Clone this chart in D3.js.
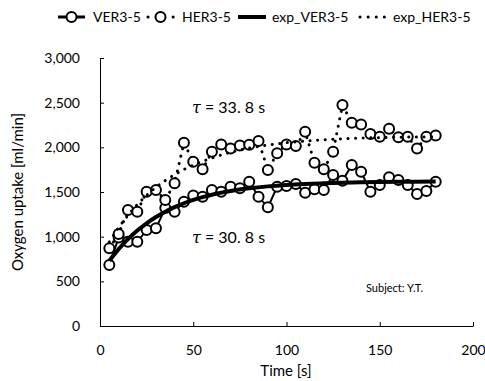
<!DOCTYPE html>
<html>
<head>
<meta charset="utf-8">
<script src="https://cdn.jsdelivr.net/npm/d3@7"></script>
<style>
  body { margin: 0; background: #fff; }
  text { font-family: Lato, "Noto Sans", sans-serif; fill: #000; }
</style>
</head>
<body>
<div id="chart"></div>
<script>
// measured data (every 5 s)
var time = [5,10,15,20,25,30,35,40,45,50,55,60,65,70,75,80,85,90,95,100,105,110,115,120,125,130,135,140,145,150,155,160,165,170,175,180];
var ver = [683,990,943,943,1074,1093,1320,1280,1391,1460,1447,1522,1503,1559,1541,1615,1447,1328,1559,1567,1589,1492,1530,1522,1690,1626,1802,1727,1503,1578,1664,1634,1578,1477,1511,1615];
var her = [869,1030,1298,1280,1503,1522,1410,1597,2051,1838,1754,1951,2033,1988,2020,2030,2070,1746,1933,2033,2016,2174,1827,1754,1951,2473,2275,2255,2150,2118,2208,2112,2118,1988,2118,2133];

// fitted curves
var expTime = [5,10,15,20,25,30,35,40,45,50,55,60,70,80,90,100,110,120,140,160,180];
var expVer = [730,860,972,1068,1150,1220,1280,1331,1374,1411,1443,1470,1511,1541,1563,1579,1590,1598,1609,1614,1617];
var expHer = [940,1100,1239,1359,1462,1552,1628,1694,1752,1801,1843,1880,1945,1992,2026,2052,2070,2085,2103,2113,2118];

var xTicks = [0,50,100,150,200];
var yTicks = [0,500,1000,1500,2000,2500,3000];
var legendNames = ["VER3-5","HER3-5","exp_VER3-5","exp_HER3-5"];

var width = 485, height = 381;
var svg = d3.select("#chart").append("svg")
  .attr("width", width).attr("height", height);

var x = d3.scaleLinear().domain([0,200]).range([100,473]);
var y = d3.scaleLinear().domain([0,3000]).range([326,58]);

// axes
var yAxis = d3.axisLeft(y).tickValues(yTicks).tickFormat(d3.format(","))
  .tickSizeInner(-4).tickSizeOuter(0).tickPadding(20);
var xAxis = d3.axisBottom(x).tickValues(xTicks)
  .tickSizeInner(-4).tickSizeOuter(0).tickPadding(19);

var gy = svg.append("g").attr("transform","translate(100,0)").call(yAxis);
var gx = svg.append("g").attr("transform","translate(0,326)").call(xAxis);
[gx, gy].forEach(function(g){
  g.selectAll("text").attr("font-size","14px").attr("font-family","Lato, sans-serif").attr("fill","#222");
  g.selectAll("path,line").attr("stroke","#000").attr("stroke-width",1);
});

svg.append("text")
  .attr("transform","translate(23,192) rotate(-90)")
  .attr("text-anchor","middle")
  .attr("font-size","15px")
  .text("Oxygen uptake [ml/min]");
svg.append("text")
  .attr("x",286).attr("y",376)
  .attr("text-anchor","middle")
  .attr("font-size","15px")
  .text("Time [s]");

var line = d3.line().x(function(d){ return x(d[0]); }).y(function(d){ return y(d[1]); });
var smooth = d3.line().curve(d3.curveMonotoneX)
  .x(function(d){ return x(d[0]); }).y(function(d){ return y(d[1]); });

var verPts = d3.zip(time, ver);
var herPts = d3.zip(time, her);

function markers(pts){
  svg.append("g").selectAll("circle").data(pts).join("circle")
    .attr("cx", function(d){ return x(d[0]); })
    .attr("cy", function(d){ return y(d[1]); })
    .attr("r",5).attr("fill","#fff").attr("stroke","#000").attr("stroke-width",2);
}

// VER3-5: solid line + markers
svg.append("path").datum(verPts).attr("d", line)
  .attr("fill","none").attr("stroke","#000").attr("stroke-width",2);
markers(verPts);

// HER3-5: dotted line + markers
svg.append("path").datum(herPts).attr("d", line)
  .attr("fill","none").attr("stroke","#000").attr("stroke-width",3)
  .attr("stroke-linecap","round").attr("stroke-dasharray","0.1,7.5");
markers(herPts);

// fit lines on top
svg.append("path").datum(d3.zip(expTime, expVer)).attr("d", smooth)
  .attr("fill","none").attr("stroke","#000").attr("stroke-width",4);
svg.append("path").datum(d3.zip(expTime, expHer)).attr("d", smooth)
  .attr("fill","none").attr("stroke","#000").attr("stroke-width",3)
  .attr("stroke-linecap","round").attr("stroke-dasharray","0.1,7.5");

// annotations
function tau(yy, label){
  var t = svg.append("text").attr("x",192).attr("y",yy).attr("font-size","16px")
    .attr("font-family","'Noto Sans CJK JP', sans-serif");
  t.append("tspan").attr("font-family","'DejaVu Serif', serif").attr("font-style","italic").text("τ");
  t.append("tspan").text(" = " + label);
}
tau(113, "33. 8 s");
tau(243, "30. 8 s");

svg.append("text").attr("x",366).attr("y",292).attr("font-size","11px").text("Subject: Y.T.");

// legend
var lg = svg.append("g");
var ly = 17;
var legendX = [58, 147, 238, 358];
var legendTextX = [93, 182, 272, 393];
lg.append("line").attr("x1",legendX[0]).attr("x2",legendX[0]+27).attr("y1",ly).attr("y2",ly)
  .attr("stroke","#000").attr("stroke-width",3);
lg.append("circle").attr("cx",legendX[0]+13.5).attr("cy",ly).attr("r",5)
  .attr("fill","#fff").attr("stroke","#000").attr("stroke-width",2);
lg.append("line").attr("x1",legendX[1]+1).attr("x2",legendX[1]+27).attr("y1",ly).attr("y2",ly)
  .attr("stroke","#000").attr("stroke-width",3).attr("stroke-linecap","round").attr("stroke-dasharray","0.1,25");
lg.append("circle").attr("cx",legendX[1]+13.5).attr("cy",ly).attr("r",5)
  .attr("fill","#fff").attr("stroke","#000").attr("stroke-width",2);
lg.append("line").attr("x1",legendX[2]).attr("x2",legendX[2]+28).attr("y1",ly).attr("y2",ly)
  .attr("stroke","#000").attr("stroke-width",4);
lg.append("line").attr("x1",legendX[3]+2).attr("x2",legendX[3]+28).attr("y1",ly).attr("y2",ly)
  .attr("stroke","#000").attr("stroke-width",3).attr("stroke-linecap","round").attr("stroke-dasharray","0.1,8");
lg.selectAll("text.lbl").data(legendNames).join("text").attr("class","lbl")
  .attr("x", function(d,i){ return legendTextX[i]; })
  .attr("y", ly+5)
  .attr("font-size","14px")
  .text(function(d){ return d; });
</script>
</body>
</html>
